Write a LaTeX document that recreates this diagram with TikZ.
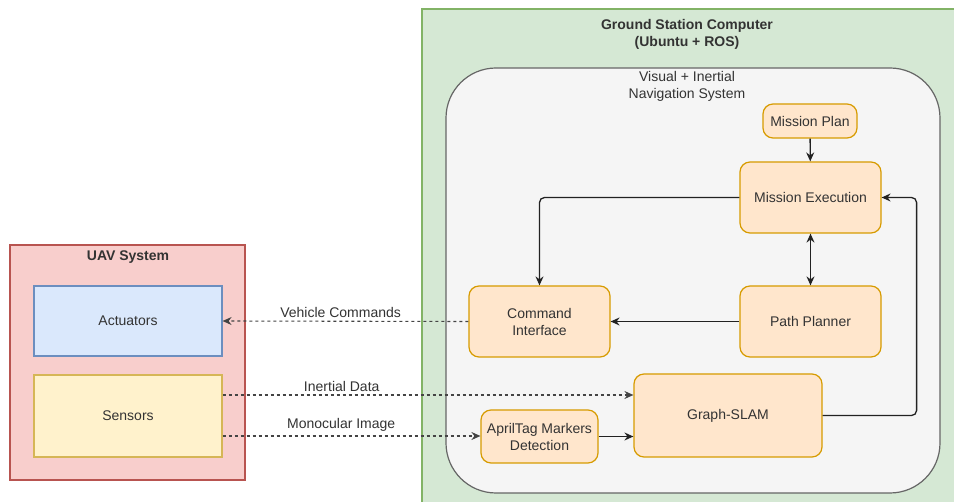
\documentclass[tikz,border=0pt]{standalone}
\usepackage{fontspec}
\setmainfont{Liberation Sans}
\usetikzlibrary{arrows.meta,positioning}

\definecolor{txtgray}{HTML}{333333}
\definecolor{linegray}{HTML}{222222}
\definecolor{dashgray}{HTML}{444444}
\definecolor{greenfill}{HTML}{D5E8D4}
\definecolor{greenline}{HTML}{82B366}
\definecolor{grayfill}{HTML}{F5F5F5}
\definecolor{grayline}{HTML}{666666}
\definecolor{redfill}{HTML}{F8CECC}
\definecolor{redline}{HTML}{B85450}
\definecolor{bluefill}{HTML}{DAE8FC}
\definecolor{blueline}{HTML}{6C8EBF}
\definecolor{yellowfill}{HTML}{FFF2CC}
\definecolor{yellowline}{HTML}{D6B656}
\definecolor{orangefill}{HTML}{FFE6CC}
\definecolor{orangeline}{HTML}{D79B00}

\begin{document}
\begin{tikzpicture}[x=1pt, y=-1pt, font=\fontsize{14}{17}\selectfont, text=txtgray,
  >={Stealth[length=9pt, width=8pt, inset=3pt]},
  block/.style={draw=orangeline, fill=orangefill, line width=1.2pt, rounded corners=10pt, align=center, inner sep=0pt},
  unit/.style={line width=1.2pt, align=center, inner sep=0pt},
  flow/.style={draw=linegray, line width=1.3pt, ->, rounded corners=5pt},
  link/.style={flow, draw=dashgray, line width=1.1pt, rounded corners=0pt, dash pattern=on 3pt off 3pt}]
\useasboundingbox (0,0) rectangle (954,502);
\fill[white] (0,0) rectangle (954,502);

% Ground station computer
\draw[draw=greenline, fill=greenfill, line width=1.2pt] (422,9) rectangle (975,520);
\node[font=\fontsize{14}{17}\selectfont\bfseries, align=center] (gstitle) at (687,34) {Ground Station Computer\\(Ubuntu + ROS)};

% Navigation system
\draw[draw=grayline, fill=grayfill, line width=1.2pt, rounded corners=50pt] (446,68) rectangle (940,493);
\node[align=center] (navtitle) at (687,86) {Visual + Inertial\\Navigation System};

\node[block, minimum width=94pt, minimum height=34pt] (plan) at (810,121) {Mission Plan};
\node[block, minimum width=141pt, minimum height=71pt] (exec) at (810.5,197.5) {Mission Execution};
\node[block, minimum width=141pt, minimum height=71pt] (cmd) at (539.5,321.5) {Command\\Interface};
\node[block, minimum width=141pt, minimum height=71pt] (planner) at (810.5,321.5) {Path Planner};
\node[block, minimum width=188pt, minimum height=83pt] (slam) at (728,415.5) {Graph-SLAM};
\node[block, minimum width=117pt, minimum height=53pt] (tag) at (539.5,436.5) {AprilTag Markers\\Detection};

% UAV system
\draw[draw=redline, fill=redfill, line width=1.2pt] (10,245) rectangle (245,480);
\node[font=\fontsize{14}{17}\selectfont\bfseries] (uavtitle) at (128,257) {UAV System};
\node[unit, draw=blueline, fill=bluefill, minimum width=188pt, minimum height=70pt] (act) at (128,321) {Actuators};
\node[unit, draw=yellowline, fill=yellowfill, minimum width=188pt, minimum height=82pt] (sens) at (128,416) {Sensors};

% Internal connectors
\draw[flow] (plan) -- (exec);
\draw[flow, <->] (exec) -- (planner);
\draw[flow] (exec.west) -| (cmd.north);
\draw[flow] (planner) -- (cmd);
\draw[flow] (slam.east) -- ++(94,0) |- (exec.east);
\draw[flow] (tag.east) -- (tag.east -| slam.west);

% Links to the vehicle
\coordinate (inertial) at ([yshift=21pt]sens.east);
\coordinate (mono) at ([yshift=-20pt]sens.east);
\draw[link] (cmd.west) -- node[pos=0.52, above, inner sep=3pt] {Vehicle Commands} (act.east);
\draw[link] (inertial) -- node[pos=0.29, above, inner sep=2.5pt] {Inertial Data} (inertial -| slam.west);
\draw[link] (mono) -- node[pos=0.46, above, inner sep=4pt] {Monocular Image} (mono -| tag.west);
\end{tikzpicture}
\end{document}
